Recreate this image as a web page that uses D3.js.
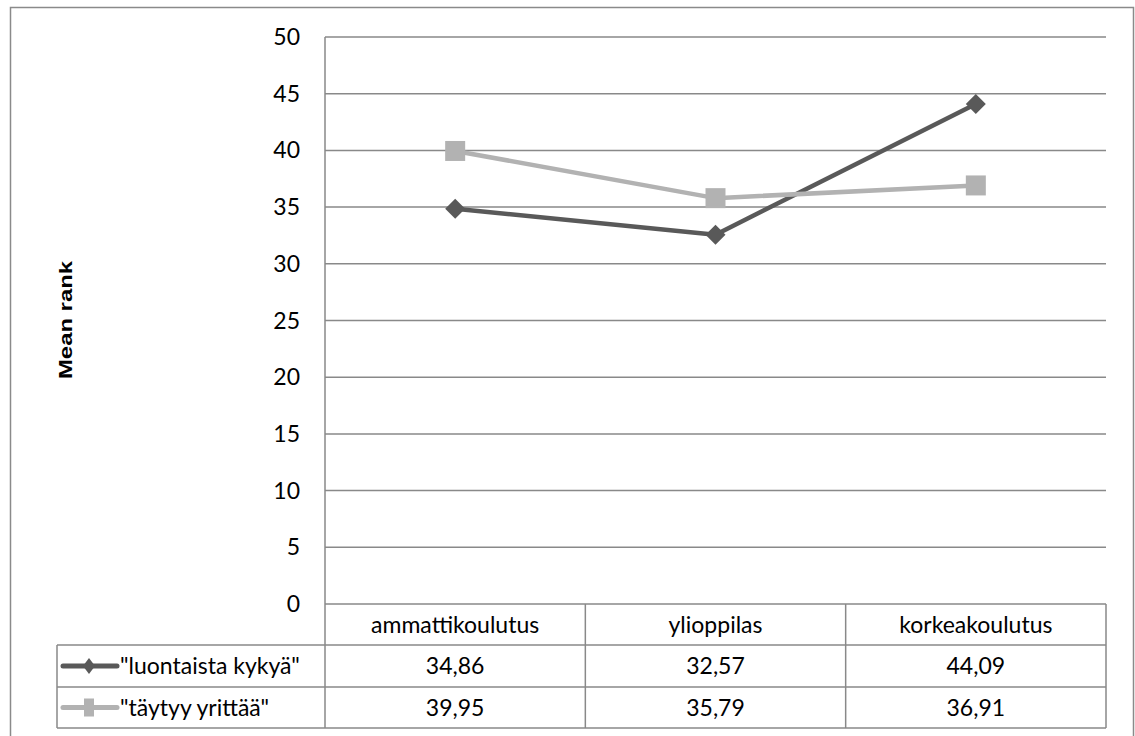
<!DOCTYPE html>
<html>
<head>
<meta charset="utf-8">
<script src="https://cdn.jsdelivr.net/npm/d3@7"></script>
<style>
  html, body { margin: 0; padding: 0; background: #fff; }
  svg { display: block; }
  text { font-family: Lato, "Open Sans", sans-serif; fill: #000; }
</style>
</head>
<body>
<svg id="chart" width="1135" height="736"></svg>
<script>
// Education level categories (x axis / table columns)
const categories = ["ammattikoulutus", "ylioppilas", "korkeakoulutus"];
// Series names
const seriesNames = ["\"luontaista kykyä\"", "\"täytyy yrittää\""];
// Mean rank values per series
const luontaista = [34.86, 32.57, 44.09];
const taytyy = [39.95, 35.79, 36.91];
// Y axis ticks
const yTicks = [0, 5, 10, 15, 20, 25, 30, 35, 40, 45, 50];

const series = [
  { name: seriesNames[0], values: luontaista, color: "#595959", marker: "diamond" },
  { name: seriesNames[1], values: taytyy, color: "#b2b2b2", marker: "square" }
];

const fmt = v => d3.format(".2f")(v).replace(".", ",");

const svg = d3.select("#chart");
const gridColor = "#898989";

// Plot frame
const plotLeft = 325, plotRight = 1106, plotTop = 37, plotBottom = 604;
const tableLeft = 57;
const rowEdges = [604, 645, 687, 728];

const x = d3.scaleBand().domain(categories).range([plotLeft, plotRight]);
const y = d3.scaleLinear().domain([0, 50]).range([plotBottom, plotTop]);

// Outer chart border
svg.append("rect")
  .attr("x", 10.5).attr("y", 7.5)
  .attr("width", 1123).attr("height", 740)
  .attr("fill", "none")
  .attr("stroke", "#8a8a8a")
  .attr("stroke-width", 1.5);

// Horizontal gridlines
svg.append("g").selectAll("line")
  .data(yTicks)
  .join("line")
  .attr("x1", plotLeft).attr("x2", plotRight)
  .attr("y1", d => y(d)).attr("y2", d => y(d))
  .attr("stroke", gridColor)
  .attr("stroke-width", 1.5);

// Y tick labels
svg.append("g").selectAll("text")
  .data(yTicks)
  .join("text")
  .attr("x", 300)
  .attr("y", d => y(d))
  .attr("dy", "0.35em")
  .attr("text-anchor", "end")
  .style("font-size", "23px")
  .text(d => d);

// Y axis line, continued down through the data table
svg.append("line")
  .attr("x1", plotLeft).attr("x2", plotLeft)
  .attr("y1", plotTop).attr("y2", rowEdges[3])
  .attr("stroke", gridColor).attr("stroke-width", 1.5);

// Y axis title
svg.append("text")
  .attr("transform", `translate(72,320) rotate(-90)`)
  .attr("text-anchor", "middle")
  .attr("textLength", 118)
  .attr("lengthAdjust", "spacingAndGlyphs")
  .style("font-family", "'Liberation Sans', Arial, sans-serif")
  .style("font-weight", "bold")
  .style("font-size", "18px")
  .text("Mean rank");

// Data table: column separators and right edge
const colEdges = categories.map(c => x(c) + x.bandwidth());
svg.append("g").selectAll("line")
  .data(colEdges)
  .join("line")
  .attr("x1", d => d).attr("x2", d => d)
  .attr("y1", rowEdges[0]).attr("y2", rowEdges[3])
  .attr("stroke", gridColor).attr("stroke-width", 1.5);

// Data table: horizontal rules for series rows
svg.append("g").selectAll("line")
  .data(rowEdges.slice(1))
  .join("line")
  .attr("x1", tableLeft).attr("x2", plotRight)
  .attr("y1", d => d).attr("y2", d => d)
  .attr("stroke", gridColor).attr("stroke-width", 1.5);
svg.append("line")
  .attr("x1", tableLeft).attr("x2", tableLeft)
  .attr("y1", rowEdges[1]).attr("y2", rowEdges[3])
  .attr("stroke", gridColor).attr("stroke-width", 1.5);

// Category header labels
svg.append("g").selectAll("text")
  .data(categories)
  .join("text")
  .attr("x", d => x(d) + x.bandwidth() / 2)
  .attr("y", (rowEdges[0] + rowEdges[1]) / 2)
  .attr("dy", "0.35em")
  .attr("text-anchor", "middle")
  .style("font-size", "23px")
  .text(d => d);

// Series rows: legend key, name and values
series.forEach((s, i) => {
  const rowMid = (rowEdges[i + 1] + rowEdges[i + 2]) / 2;
  const g = svg.append("g");
  g.append("line")
    .attr("x1", 63).attr("x2", 117)
    .attr("y1", rowMid).attr("y2", rowMid)
    .attr("stroke", s.color).attr("stroke-width", 5)
    .attr("stroke-linecap", "round");
  if (s.marker === "diamond") {
    g.append("path")
      .attr("d", `M${89},${rowMid - 8}L${95},${rowMid}L${89},${rowMid + 8}L${83},${rowMid}Z`)
      .attr("fill", s.color);
  } else {
    g.append("rect")
      .attr("x", 84).attr("y", rowMid - 9)
      .attr("width", 10).attr("height", 18)
      .attr("fill", s.color);
  }
  g.append("text")
    .attr("x", 120).attr("y", rowMid)
    .attr("dy", "0.35em")
    .style("font-size", "23px")
    .text(s.name);
  g.selectAll("text.val")
    .data(s.values)
    .join("text")
    .attr("class", "val")
    .attr("x", (d, j) => x(categories[j]) + x.bandwidth() / 2)
    .attr("y", rowMid)
    .attr("dy", "0.35em")
    .attr("text-anchor", "middle")
    .style("font-size", "23px")
    .text(d => fmt(d));
});

// Lines and markers
const line = d3.line()
  .x((d, j) => x(categories[j]) + x.bandwidth() / 2)
  .y(d => y(d));

series.forEach(s => {
  svg.append("path")
    .datum(s.values)
    .attr("d", line)
    .attr("fill", "none")
    .attr("stroke", s.color)
    .attr("stroke-width", 4.5)
    .attr("stroke-linejoin", "round");
  const sym = s.marker === "diamond"
    ? d3.symbol().type(d3.symbolSquare).size(200)
    : d3.symbol().type(d3.symbolSquare).size(400);
  svg.append("g").selectAll("path")
    .data(s.values)
    .join("path")
    .attr("transform", (d, j) => `translate(${x(categories[j]) + x.bandwidth() / 2},${y(d)})` +
      (s.marker === "diamond" ? " rotate(45)" : ""))
    .attr("d", sym)
    .attr("fill", s.color);
});
</script>
</body>
</html>
